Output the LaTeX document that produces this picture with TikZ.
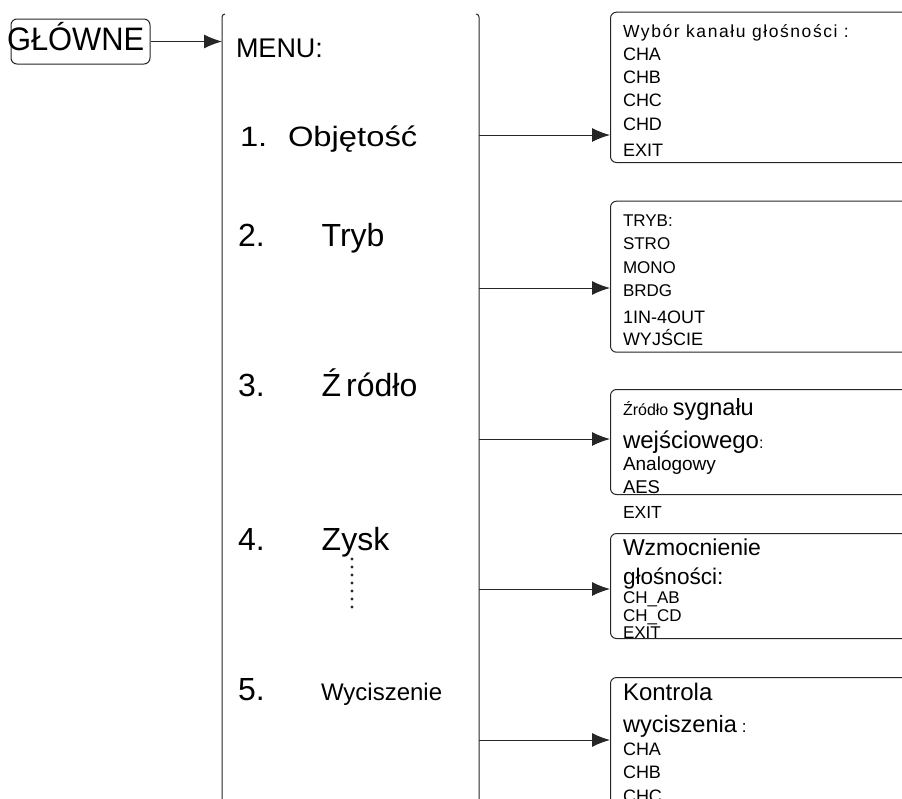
\documentclass[tikz,border=0pt]{standalone}
\usepackage{fontspec}
\setmainfont{Liberation Sans}
\usetikzlibrary{arrows.meta}
\newcommand\fsz[1]{\fontsize{#1}{#1}\selectfont}
\begin{document}
\begin{tikzpicture}[x=1pt,y=-1pt,
  line width=1pt,
  lc/.style={draw=black!85},
  box/.style={lc, rounded corners=6pt, line width=1pt, inner sep=0pt, anchor=north west, minimum width=330pt},
  txt/.style={anchor=base west, inner sep=0pt, outer sep=0pt, text=black},
  arr/.style={lc, -{Latex[length=18pt,width=14pt]}},
  dots/.style={lc, line width=3.2pt, line cap=round, dash pattern=on 0pt off 8pt},
]
\useasboundingbox (0,0) rectangle (902,798);
\clip (0,0) rectangle (902,798);

% main node
\node[lc, rounded corners=6pt, minimum width=139pt, minimum height=45pt, inner sep=0pt] (glw) at (80.5,41.5) {};
\node[txt, font=\fsz{32.5}] (glt) at (7,50) {\scalebox{0.95}[1]{GŁÓWNE}};

% menu brackets
\coordinate (ml) at (222,14);
\coordinate (mr) at (479,14);
\coordinate (mlb) at (222,800);
\coordinate (mrb) at (479,800);
\draw[lc, rounded corners=3pt] (mlb) -- (ml) -- ++(3,0);
\draw[lc, rounded corners=3pt] (mrb) -- (mr) -- ++(-3,0);
\draw[arr] (glw.east) -- (glw.east -| ml);

% menu texts
\node[txt, font=\fsz{27}] (menu) at (236,57) {MENU:};
\node[txt, font=\fsz{28}] (n1) at (240,146.7) {\scalebox{1.17}[1]{1.}};
\node[txt, font=\fsz{28}] (i1) at (288,146.7) {\scalebox{1.17}[1]{Objętość}};
\node[txt, font=\fsz{32}] (n2) at (238,246.7) {2.};
\node[txt, font=\fsz{32}] (i2) at (321.7,246.7) {Tryb};
\node[txt, font=\fsz{32}] (n3) at (238,396.7) {3.};
\node[txt, font=\fsz{32}] (i3) at (321.7,396.7) {Ź\hspace{5pt}ródło};
\node[txt, font=\fsz{32}] (n4) at (238,550) {4.};
\node[txt, font=\fsz{32}] (i4) at (321.7,550) {Zysk};
\coordinate (d1) at (352,559);
\coordinate (d2) at (352,608);
\draw[dots] (d1) -- (d2);
\node[txt, font=\fsz{32}] (n5) at (238,700) {5.};
\node[txt, font=\fsz{24}] (i5) at (321,700) {Wyciszenie};

% submenu boxes
\node[box, minimum height=150.3pt] (b1) at (610,11.7) {};
\node[box, minimum height=151pt] (b2) at (610,200.7) {};
\node[box, minimum height=105pt] (b3) at (610,389) {};
\node[box, minimum height=105pt] (b4) at (610,533) {};
\node[box, minimum height=200pt] (b5) at (610,677) {};

% connectors
\coordinate (c1) at (479,135);
\coordinate (c2) at (479,288);
\coordinate (c3) at (479,439);
\coordinate (c4) at (479,589);
\coordinate (c5) at (479,740);
\draw[arr] (c1) -- (c1 -| b1.west);
\draw[arr] (c2) -- (c2 -| b2.west);
\draw[arr] (c3) -- (c3 -| b3.west);
\draw[arr] (c4) -- (c4 -| b4.west);
\draw[arr] (c5) -- (c5 -| b5.west);

% box 1 texts
\node[txt, font=\fsz{17.5}\addfontfeature{LetterSpace=9}] (t11) at (623,37.3) {Wybór kanału głośności :};
\node[txt, font=\fsz{18}] (t12) at (623,60.7) {CHA};
\node[txt, font=\fsz{18}] (t13) at (623,83.3) {CHB};
\node[txt, font=\fsz{18}] (t14) at (623,106.7) {CHC};
\node[txt, font=\fsz{18}] (t15) at (623,130) {CHD};
\node[txt, font=\fsz{18}] (t16) at (623,156) {EXIT};

% box 2 texts
\node[txt, font=\fsz{17}] (t21) at (623,226.7) {TRYB:};
\node[txt, font=\fsz{17}] (t22) at (623,249.3) {STRO};
\node[txt, font=\fsz{17}] (t23) at (623,273.3) {MONO};
\node[txt, font=\fsz{17}] (t24) at (623,296.7) {BRDG};
\node[txt, font=\fsz{18}] (t25) at (623,323.3) {1IN-4OUT};
\node[txt, font=\fsz{18}] (t26) at (623,345) {WYJŚCIE};

% box 3 texts
\node[txt] (t31) at (623,415) {\fsz{16}Źródło \fsz{23.5}sygnału};
\node[txt] (t32) at (623,448) {\fsz{24}wejściowego\fsz{16}:};
\node[txt, font=\fsz{19}] (t33) at (623,470) {Analogowy};
\node[txt, font=\fsz{18.5}] (t34) at (623,493) {AES};
\node[txt, font=\fsz{17.5}] (t35) at (623,518) {EXIT};

% box 4 texts
\node[txt, font=\fsz{23}] (t41) at (623,555) {Wzmocnienie};
\node[txt, font=\fsz{22.6}] (t42) at (623,584) {głośności:};
\node[txt, font=\fsz{17}] (t43) at (623,603.3) {CH\_AB};
\node[txt, font=\fsz{17}] (t44) at (623,621.7) {CH\_CD};
\node[txt, font=\fsz{17}] (t45) at (623,638.3) {EXIT};

% box 5 texts
\node[txt, font=\fsz{24}] (t51) at (623,700) {Kontrola};
\node[txt] (t52) at (623,732) {\fsz{23.6}wyciszenia\fsz{17} :};
\node[txt, font=\fsz{18}] (t53) at (623,755) {CHA};
\node[txt, font=\fsz{18}] (t54) at (623,778) {CHB};
\node[txt, font=\fsz{18}] (t55) at (623,802) {CHC};
\end{tikzpicture}
\end{document}
